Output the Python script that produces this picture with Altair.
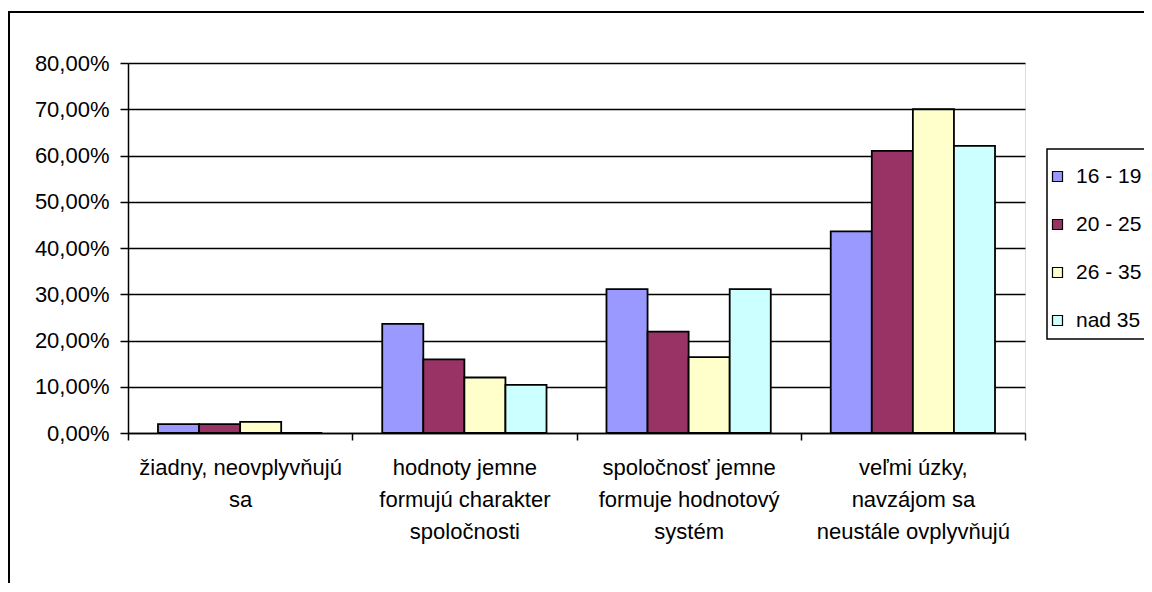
import altair as alt
import pandas as pd

categories = [
    "žiadny, neovplyvňujú\nsa",
    "hodnoty jemne\nformujú charakter\nspoločnosti",
    "spoločnosť jemne\nformuje hodnotový\nsystém",
    "veľmi úzky,\nnavzájom sa\nneustále ovplyvňujú",
]
groups = ["16 - 19", "20 - 25", "26 - 35", "nad 35"]
v_16_19 = [1.9, 23.6, 31.1, 43.6]
v_20_25 = [1.9, 15.9, 21.9, 61.0]
v_26_35 = [2.4, 12.0, 16.4, 70.0]
v_nad_35 = [0.0, 10.4, 31.1, 62.1]
colors = ["#9999FF", "#993366", "#FFFFCC", "#CCFFFF"]
y_ticks = [0, 10, 20, 30, 40, 50, 60, 70, 80]

rows = []
for g, vals in zip(groups, [v_16_19, v_20_25, v_26_35, v_nad_35]):
    for c, v in zip(categories, vals):
        rows.append({"cat": c, "grp": g, "val": v})
df = pd.DataFrame(rows)

FONT = "Liberation Sans"

bars = alt.Chart(df).mark_bar(stroke="black", strokeWidth=1.8).encode(
    x=alt.X(
        "cat:N",
        sort=categories,
        scale=alt.Scale(paddingInner=0, paddingOuter=0),
        axis=alt.Axis(
            title=None,
            labelAngle=0,
            labelExpr="split(datum.label, '\\n')",
            labelFont=FONT,
            labelFontSize=22,
            labelColor="black",
            labelLineHeight=32,
            labelPadding=17,
            labelBaseline="top",
            labelOverlap=False,
            labelLimit=400,
            domainColor="black",
            domainWidth=1.5,
            tickColor="black",
            tickWidth=1.5,
            tickSize=7,
            tickBand="extent",
            grid=False,
        ),
    ),
    xOffset=alt.XOffset(
        "grp:N", sort=groups, scale=alt.Scale(paddingOuter=0.73, paddingInner=0)
    ),
    y=alt.Y(
        "val:Q",
        scale=alt.Scale(domain=[0, 80], nice=False),
        axis=alt.Axis(
            title=None,
            values=y_ticks,
            labelExpr="replace(format(datum.value, '.2f'), '.', ',') + '%'",
            labelFont=FONT,
            labelFontSize=22,
            labelColor="black",
            labelPadding=11,
            domainColor="black",
            domainWidth=1.5,
            tickColor="black",
            tickWidth=1.5,
            tickSize=8,
            grid=True,
            gridColor="black",
            gridWidth=1.5,
            gridOpacity=1,
        ),
    ),
    color=alt.Color(
        "grp:N",
        sort=groups,
        scale=alt.Scale(domain=groups, range=colors),
        legend=alt.Legend(
            title=None,
            orient="none",
            legendX=919,
            legendY=103,
            padding=0,
            labelFont=FONT,
            labelFontSize=21,
            labelColor="black",
            labelOffset=8,
            labelLimit=200,
            symbolType="square",
            symbolSize=100,
            symbolStrokeColor="black",
            symbolStrokeWidth=1.2,
            rowPadding=26,
        ),
    ),
)

legend_box = alt.Chart(pd.DataFrame({"a": [0]})).mark_rect(
    fill="white", stroke="black", strokeWidth=1.5
).encode(
    x=alt.value(919), x2=alt.value(1200), y=alt.value(86), y2=alt.value(276)
)

border = alt.Chart(pd.DataFrame({"a": [0]})).mark_rect(
    fill=None, fillOpacity=0, stroke="black", strokeWidth=2
).encode(
    x=alt.value(-119), x2=alt.value(1400), y=alt.value(-51), y2=alt.value(900)
)

chart = alt.layer(legend_box, bars, border).properties(
    width=897,
    height=370,
    autosize=alt.AutoSizeParams(type="none"),
    padding={"left": 120, "top": 55, "right": 119, "bottom": 150},
).configure_view(
    fill="#C0C0C0", stroke="#808080", strokeWidth=1.5
).configure(background="white")

chart.save("out.html", embed_options={"renderer": "svg", "actions": False})
